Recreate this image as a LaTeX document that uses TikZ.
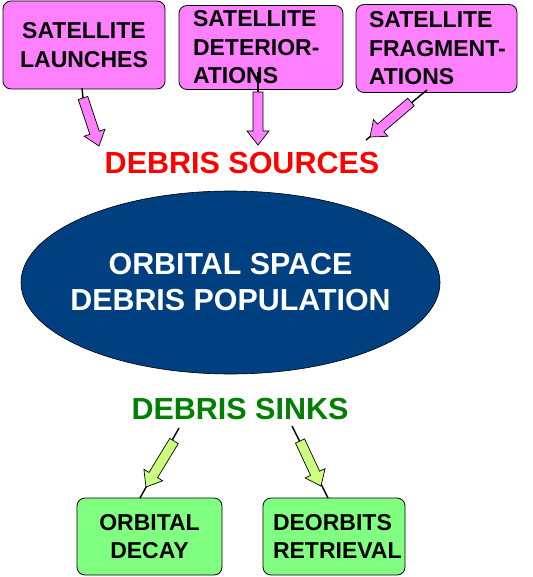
\documentclass[tikz,border=0pt]{standalone}
\usepackage{fontspec}
\setmainfont{Liberation Sans}
\usetikzlibrary{calc,shapes.geometric}
\definecolor{boxpink}{HTML}{FF80FF}
\definecolor{boxgreen}{HTML}{80FF80}
\definecolor{arrgreen}{HTML}{CCFF80}
\definecolor{ellblue}{HTML}{004080}
\definecolor{sinkgreen}{HTML}{008000}
\tikzset{
  srcbox/.style={draw=black, line width=0.8pt, rounded corners=8pt, fill=boxpink,
    align=left, font=\fontsize{23}{28.5}\selectfont\bfseries, inner sep=0pt},
  sinkbox/.style={draw=black, line width=0.8pt, rounded corners=8pt, fill=boxgreen,
    font=\fontsize{23}{28}\selectfont\bfseries, inner sep=0pt},
  stem/.style={draw=black, line width=1.4pt},
  blockarr/.style={draw=black, line width=0.7pt},
  title/.style={font=\fontsize{30.5}{34}\selectfont\bfseries, inner sep=0pt}
}
\newcommand\blockarrow[3]{%
  \draw[blockarr, fill=#1] let \p1=($(#3)-(#2)$), \n1={atan2(\y1,\x1)}, \n2={veclen(\x1,\y1)} in
    [shift={(#2)}, rotate=\n1]
    (0pt,-5pt) -- ({\n2*1pt-14pt},-5pt) -- ({\n2*1pt-14pt},-11pt) -- ({\n2*1pt},0pt)
    -- ({\n2*1pt-14pt},11pt) -- ({\n2*1pt-14pt},5pt) -- (0pt,5pt) -- cycle;}
\begin{document}
\begin{tikzpicture}[x=1pt,y=-1pt]
\useasboundingbox (0,0) rectangle (532,577);
% source boxes
\node[srcbox, minimum width=162pt, minimum height=88pt, align=center] (launch) at (84,45) {SATELLITE\\LAUNCHES};
\node[srcbox, minimum width=164pt, minimum height=84pt, text width=136pt, inner xsep=14pt] (deter) at (261,47.5) {\mbox{SATELLITE}\\\mbox{DETERIOR-}\\\mbox{ATIONS}};
\node[srcbox, minimum width=161pt, minimum height=88pt, text width=135pt, inner xsep=13pt] (frag) at (436.5,48.5) {\mbox{SATELLITE}\\\mbox{FRAGMENT-}\\\mbox{ATIONS}};
% labels
\node[title, text=red] (sources) at (242,163) {DEBRIS SOURCES};
\node[ellipse, draw=black, line width=0.6pt, fill=ellblue, minimum width=419pt, minimum height=183pt,
  text=white, align=center, inner xsep=-30pt, inner ysep=0pt, font=\fontsize{30.4}{36}\selectfont\bfseries] (pop) at (230.5,282.5) {ORBITAL SPACE\\DEBRIS POPULATION};
\node[title, text=sinkgreen] (sinks) at (240,409) {DEBRIS SINKS};
% sink boxes
\node[sinkbox, minimum width=145pt, minimum height=77pt, align=center] (decay) at (149.5,536.5) {ORBITAL\\DECAY};
\node[sinkbox, minimum width=142pt, minimum height=77pt, align=left, text width=122pt, inner xsep=10pt] (retr) at (334,536.5) {\mbox{DEORBITS}\\\mbox{RETRIEVAL}};
% connector coordinates
\coordinate (l0) at (82,88);   \coordinate (l1) at (83,98);   \coordinate (l2) at (99,146);
\coordinate (d0) at (258,72);  \coordinate (d1) at (258,92);  \coordinate (d2) at (258,145);
\coordinate (f0) at (427,90);  \coordinate (f1) at (411,102); \coordinate (f2) at (370,137); \coordinate (f3) at (366,140);
\coordinate (g0) at (179,428); \coordinate (g1) at (174,441); \coordinate (g2) at (146,487); \coordinate (g3) at (140,498);
\coordinate (h0) at (292,426); \coordinate (h1) at (300,441); \coordinate (h2) at (321,486); \coordinate (h3) at (328,498);
% stems
\draw[stem] (l0) -- (l1);
\draw[stem] (d0) -- (d1);
\draw[stem] (f0) -- (f3);
\draw[stem] (g0) -- (g3);
\draw[stem] (h0) -- (h3);
% block arrows
\blockarrow{boxpink}{l1}{l2}
\blockarrow{boxpink}{d1}{d2}
\blockarrow{boxpink}{f1}{f2}
\blockarrow{arrgreen}{g1}{g2}
\blockarrow{arrgreen}{h1}{h2}
\end{tikzpicture}
\end{document}
